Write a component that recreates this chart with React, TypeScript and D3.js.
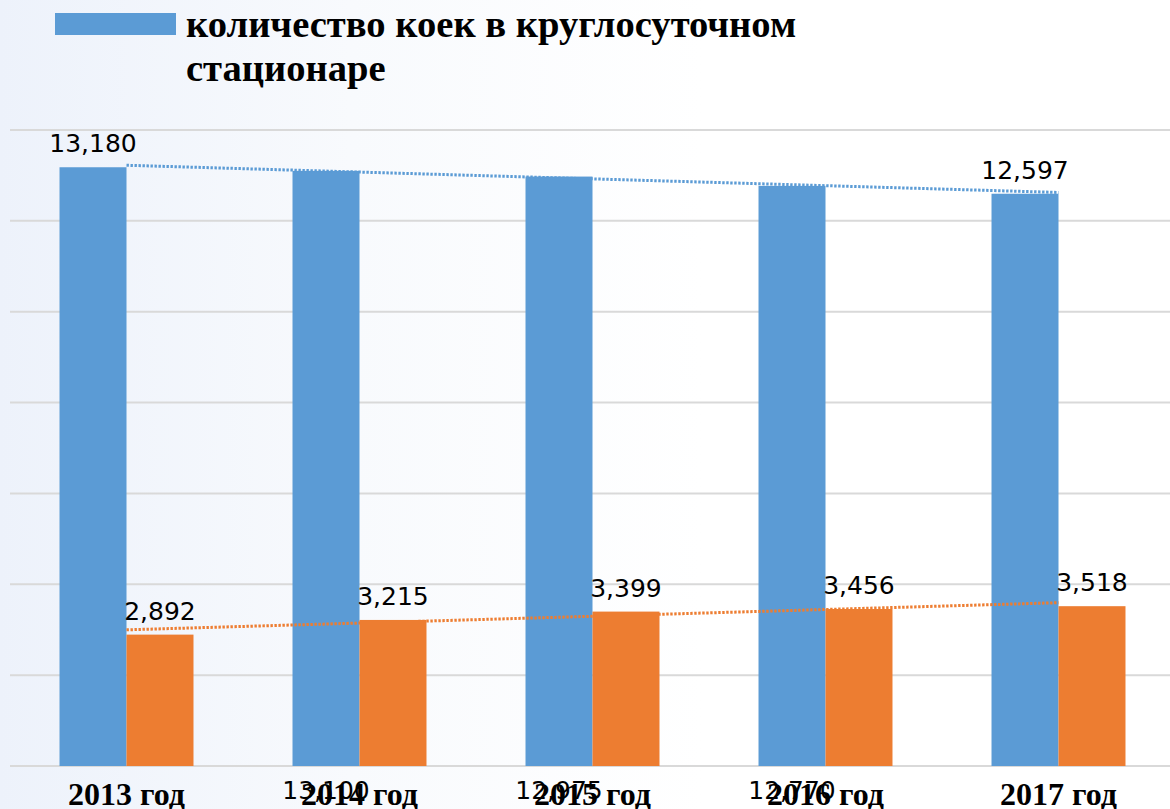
import React from "react";
import * as d3 from "d3";

const years = ["2013 год", "2014 год", "2015 год", "2016 год", "2017 год"];
const beds = [13180, 13100, 12975, 12770, 12597];
const other = [2892, 3215, 3399, 3456, 3518];
const yTicks = [0, 2000, 4000, 6000, 8000, 10000, 12000, 14000];
// labels that Excel dropped down to the axis
const bedsLabelLow = ["2014 год", "2015 год", "2016 год"];

const legendLines = ["количество коек в круглосуточном", "стационаре"];

const W = 1170;
const H = 809;
const BLUE = "#5b9bd5";
const ORANGE = "#ed7d31";

function trend(values: number[]) {
  const xs = values.map((_, i) => i);
  const mx = d3.mean(xs)!;
  const my = d3.mean(values)!;
  const num = d3.sum(xs, (x, i) => (x - mx) * (values[i] - my));
  const den = d3.sum(xs, (x) => (x - mx) * (x - mx));
  const slope = num / den;
  return values.map((_, i) => my + slope * (i - mx));
}

export default function App() {
  const x = d3
    .scaleBand<string>()
    .domain(years)
    .range([10, 1175])
    .paddingInner(0.425)
    .paddingOuter(0.2125);
  const inner = d3
    .scaleBand<string>()
    .domain(["beds", "other"])
    .range([0, x.bandwidth()]);
  const y = d3.scaleLinear().domain([0, 14000]).range([766, 130]);
  const fmt = d3.format(",");

  const line = d3
    .line<number>()
    .x((_, i) => x(years[i])! + x.bandwidth() / 2)
    .y((d) => y(d));

  const bw = inner.bandwidth();

  return (
    <div style={{ position: "fixed", left: 0, top: 0 }}>
      <svg width={W} height={H} style={{ display: "block" }}>
        <defs>
          <linearGradient id="bg" x1="0" y1="0" x2="1" y2="0">
            <stop offset="0%" stopColor="#edf2fb" />
            <stop offset="30%" stopColor="#f8fafd" />
            <stop offset="60%" stopColor="#ffffff" />
          </linearGradient>
        </defs>
        <rect width={W} height={H} fill="url(#bg)" />

        {/* legend */}
        <rect x={55} y={13} width={121} height={22} fill={BLUE} />
        {legendLines.map((t, i) => (
          <text
            key={t}
            x={186}
            y={37 + i * 44}
            fontFamily="'Liberation Serif', 'Times New Roman', serif"
            fontWeight="bold"
            fontSize={38.6}
            fill="#000"
          >
            {t}
          </text>
        ))}

        {/* grid */}
        {yTicks.map((t) => (
          <line
            key={t}
            x1={10}
            x2={W}
            y1={y(t)}
            y2={y(t)}
            stroke="#d9d9d9"
            strokeWidth={2}
          />
        ))}

        {/* blue bars */}
        {years.map((c, i) => (
          <rect
            key={c}
            x={x(c)! + inner("beds")!}
            y={y(beds[i])}
            width={bw}
            height={y(0) - y(beds[i])}
            fill={BLUE}
          />
        ))}

        {/* trend lines */}
        <path
          d={line(trend(beds))!}
          fill="none"
          stroke={BLUE}
          strokeWidth={3}
          strokeDasharray="2.4 1.6"
        />
        <path
          d={line(trend(other))!}
          fill="none"
          stroke={ORANGE}
          strokeWidth={3}
          strokeDasharray="2.4 1.6"
        />

        {/* orange bars */}
        {years.map((c, i) => (
          <rect
            key={c}
            x={x(c)! + inner("other")!}
            y={y(other[i])}
            width={bw}
            height={y(0) - y(other[i])}
            fill={ORANGE}
          />
        ))}

        {/* data labels */}
        <g fontFamily="'DejaVu Sans', Verdana, sans-serif" fontSize={25} fill="#000" textAnchor="middle">
          {years.map((c, i) => (
            <text
              key={"b" + c}
              x={x(c)! + inner("beds")! + bw / 2}
              y={bedsLabelLow.includes(c) ? 799 : y(beds[i]) - 15}
            >
              {fmt(beds[i])}
            </text>
          ))}
          {years.map((c, i) => (
            <text
              key={"o" + c}
              x={x(c)! + inner("other")! + bw / 2}
              y={y(other[i]) - 15}
            >
              {fmt(other[i])}
            </text>
          ))}
        </g>

        {/* x axis labels */}
        <g
          fontFamily="'Liberation Serif', 'Times New Roman', serif"
          fontWeight="bold"
          fontSize={32}
          fill="#000"
          textAnchor="middle"
        >
          {years.map((c) => (
            <text key={c} x={x(c)! + x.bandwidth() / 2} y={805}>
              {c}
            </text>
          ))}
        </g>
      </svg>
    </div>
  );
}
